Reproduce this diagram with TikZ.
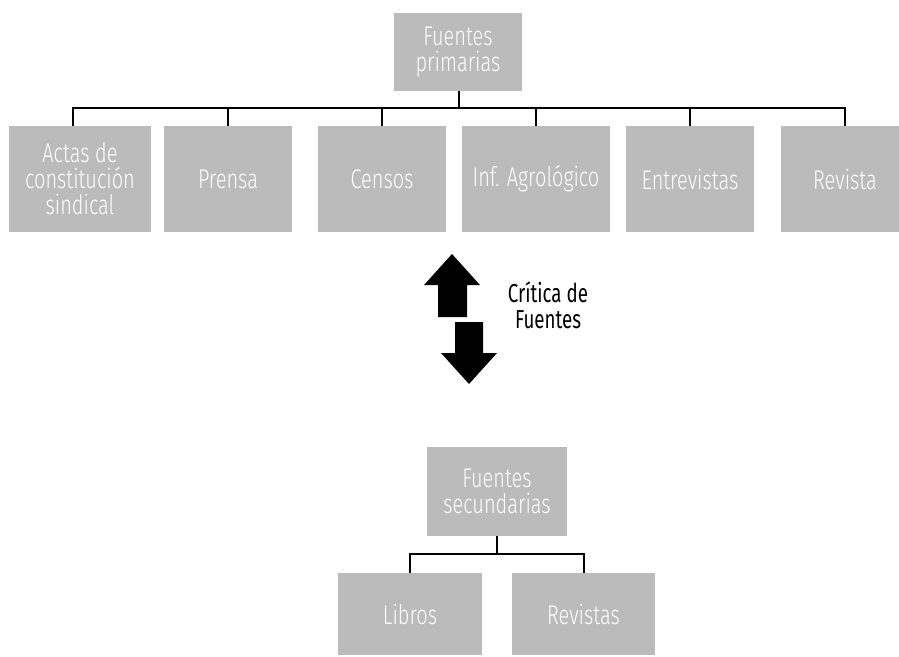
\documentclass[tikz,border=0pt]{standalone}
\usepackage{fontspec}
\setmainfont{Fira Sans}[UprightFont=* Light, FakeStretch=0.74]
\newfontfamily\regfont{Fira Sans}[FakeStretch=0.72]
\definecolor{boxgray}{RGB}{187,187,187}
\tikzset{
  gbox/.style={rectangle, fill=boxgray, inner sep=0pt, text=white, align=center,
    font=\fontsize{27}{26}\selectfont},
  conn/.style={draw=black, line width=2pt},
  arrowshape/.style={fill=black},
  lbl/.style={align=center, text=black, font=\regfont\fontsize{26}{26}\selectfont}
}
\begin{document}
\begin{tikzpicture}[x=1pt,y=-1pt]
\useasboundingbox (0,0) rectangle (899,656);
\clip (0,0) rectangle (899,656);
% top parent
\node[gbox, minimum width=128pt, minimum height=78pt] (P) at (458,52) {Fuentes\\primarias};
% children
\node[gbox, minimum width=142pt, minimum height=106pt] (c1) at (80,179) {Actas de\\constitución\\sindical};
\node[gbox, minimum width=128pt, minimum height=106pt] (c2) at (228,179) {Prensa};
\node[gbox, minimum width=128pt, minimum height=106pt] (c3) at (382,179) {Censos};
\node[gbox, minimum width=148pt, minimum height=106pt] (c4) at (536,179) {Inf. Agrológico};
\node[gbox, minimum width=128pt, minimum height=106pt] (c5) at (690,179) {Entrevistas};
\node[gbox, minimum width=128pt, minimum height=106pt] (c6) at (845,179) {Revista};
\coordinate (bus) at (459,108);
\coordinate (c1s) at ([xshift=-7pt]c1.north);
\draw[conn] ([xshift=1pt]P.south) -- (bus);
\draw[conn, line cap=rect] (c1s |- bus) -- (c6.north |- bus);
\draw[conn] (c1s) -- (c1s |- bus);
\foreach \c in {c2,c3,c4,c5,c6} {\draw[conn] (\c.north) -- (\c.north |- bus);}
% arrows
\fill[arrowshape] (452,254) -- (480,285) -- (467,285) -- (467,317) -- (438,317) -- (438,285) -- (424,285) -- cycle;
\fill[arrowshape] (469,384) -- (497,353) -- (483,353) -- (483,322) -- (455,322) -- (455,353) -- (441,353) -- cycle;
\node[lbl] (crit) at (548,305) {Crítica de\\Fuentes};
% bottom
\node[gbox, minimum width=140pt, minimum height=89pt] (S) at (497,491.5) {Fuentes\\secundarias};
\node[gbox, minimum width=144pt, minimum height=82pt] (d1) at (410,614) {Libros};
\node[gbox, minimum width=143pt, minimum height=82pt] (d2) at (583.5,614) {Revistas};
\coordinate (bus2) at (497,554);
\draw[conn] (S.south) -- (bus2);
\draw[conn, line cap=rect] (d1.north |- bus2) -- (d2.north |- bus2);
\draw[conn] (d1.north) -- (d1.north |- bus2);
\draw[conn] (d2.north) -- (d2.north |- bus2);
\end{tikzpicture}
\end{document}
